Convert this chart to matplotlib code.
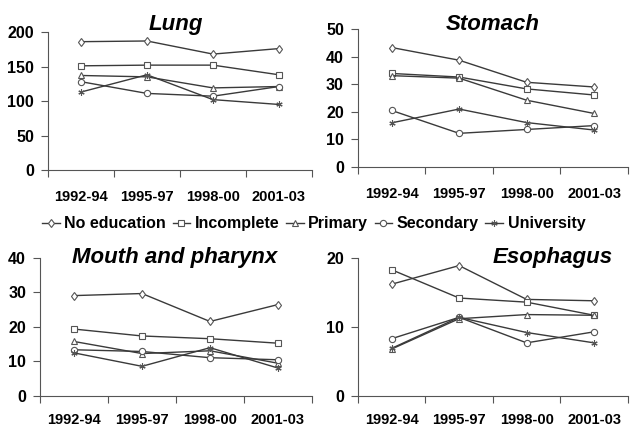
import numpy as np
import matplotlib
matplotlib.use("Agg")
import matplotlib.pyplot as plt

plt.rcParams['font.family'] = ['Liberation Sans', 'DejaVu Sans']

periods = ["1992-94", "1995-97", "1998-00", "2001-03"]
groups = ["No education", "Incomplete", "Primary", "Secondary", "University"]

lung = [[186, 187, 168, 176],
        [151, 152, 152, 138],
        [137, 135, 119, 121],
        [128, 111, 107, 121],
        [113, 138, 102, 95]]
stomach = [[43.3, 38.7, 30.7, 29.0],
           [33.9, 32.6, 28.3, 26.1],
           [33.1, 32.2, 24.2, 19.4],
           [20.5, 12.2, 13.6, 15.0],
           [16.0, 21.0, 16.1, 13.4]]
mouth = [[29.1, 29.7, 21.6, 26.5],
         [19.4, 17.4, 16.6, 15.3],
         [15.8, 12.3, 13.1, 9.5],
         [13.4, 12.9, 11.1, 10.5],
         [12.5, 8.6, 14.0, 8.1]]
esoph = [[16.2, 18.9, 14.0, 13.8],
         [18.3, 14.2, 13.6, 11.7],
         [6.8, 11.2, 11.8, 11.7],
         [8.3, 11.4, 7.7, 9.3],
         [6.9, 11.4, 9.2, 7.7]]

markers = ['d', 's', '^', 'o', (6, 2, 0)]

fig = plt.figure(figsize=(6.3, 4.28), dpi=100)

panels = [
    ("Lung", lung, [0.0762, 0.6028, 0.419, 0.3224], [0, 50, 100, 150, 200], (0.485, 1.058), 14.5),
    ("Stomach", stomach, [0.568, 0.6098, 0.4286, 0.3224], [0, 10, 20, 30, 40, 50], (0.5, 1.036), 14.5),
    ("Mouth and pharynx", mouth, [0.0635, 0.0748, 0.4317, 0.3224], [0, 10, 20, 30, 40], (0.496, 1.007), 12),
    ("Esophagus", esoph, [0.568, 0.0748, 0.4286, 0.3224], [0, 10, 20], (0.72, 1.007), 12),
]

x = np.arange(len(periods))
handles = []
for title, data, pos, yt, tpos, xpad in panels:
    ax = fig.add_axes(pos)
    hs = []
    for vals, m in zip(data, markers):
        h, = ax.plot(x, vals, color='#3a3a3a', lw=1.0, marker=m, ms=4.5,
                     mfc='white', mec='#555555', mew=0.8)
        hs.append(h)
    handles = hs
    ax.set_xlim(-0.5, 3.5)
    ax.set_ylim(yt[0], yt[-1])
    ax.set_yticks(yt)
    ax.set_xticks(np.arange(-0.5, 4.0, 1.0))
    ax.set_xticklabels([])
    ax.set_xticks(x, minor=True)
    ax.set_xticklabels(periods, minor=True, fontsize=10.5, fontweight='bold')
    ax.tick_params(axis='x', which='major', length=5, width=0.8, color='#555555')
    ax.tick_params(axis='x', which='minor', length=0, pad=xpad)
    ax.tick_params(axis='y', length=5, width=0.8, color='#555555', pad=5, labelsize=11.5)
    for lab in ax.get_yticklabels():
        lab.set_fontweight('bold')
    for s in ['top', 'right']:
        ax.spines[s].set_visible(False)
    for s in ['left', 'bottom']:
        ax.spines[s].set_color('#555555')
        ax.spines[s].set_linewidth(0.8)
    ax.text(tpos[0], tpos[1], title, transform=ax.transAxes, ha='center', va='center',
            fontsize=16, fontweight='bold', fontstyle='italic')

fig.legend(handles, groups, loc='center', bbox_to_anchor=(0.498, 0.477), ncol=5,
           frameon=False, handlelength=1.1, handletextpad=0.3, columnspacing=0.4,
           prop={'size': 11.5, 'weight': 'bold'})

fig.savefig("out.png", dpi=100)
